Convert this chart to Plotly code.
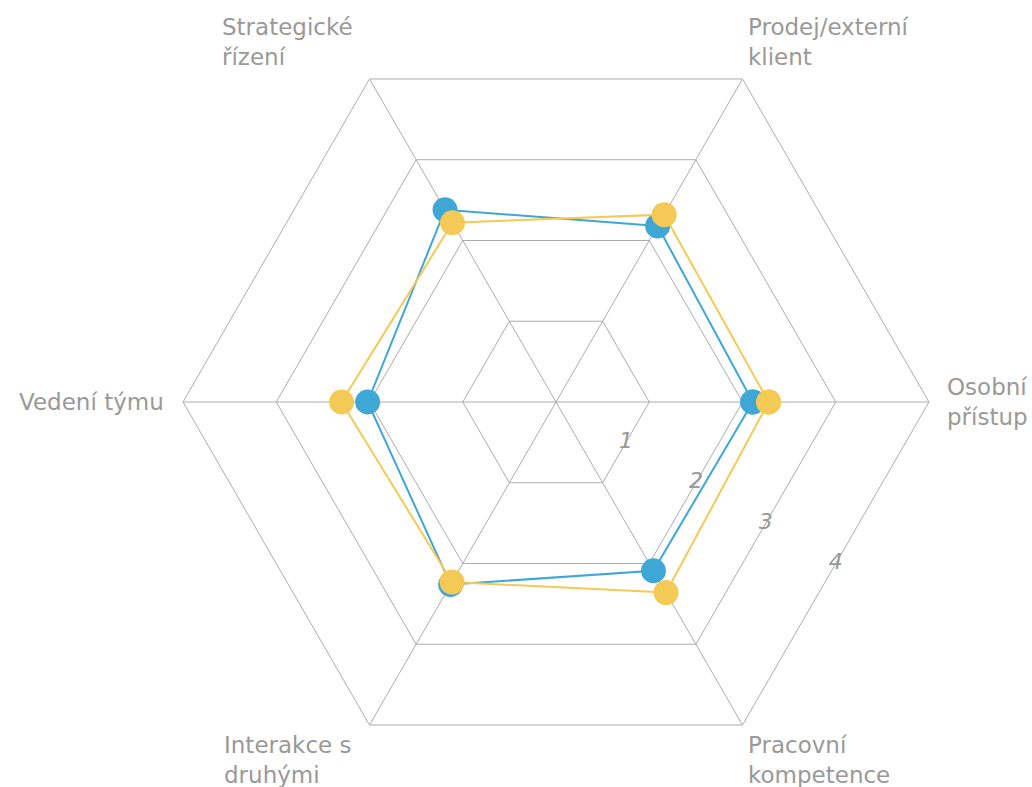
import math
import plotly.graph_objects as go

categories = ["Osobní<br>přístup", "Prodej/externí<br>klient", "Strategické<br>řízení",
              "Vedení týmu", "Interakce s<br>druhými", "Pracovní<br>kompetence"]
series_blue = [2.11, 2.18, 2.38, 2.02, 2.26, 2.09]
series_yellow = [2.28, 2.32, 2.22, 2.30, 2.23, 2.36]
radial_ticks = [1, 2, 3, 4]

BLUE = "#3fa7d6"
YELLOW = "#f5c955"
GRID = "#acacac"
TEXT = "#999999"
W, H = 1032, 787

step = 360 / len(categories)

def closed(v):
    return list(v) + list(v[:1])

fig = go.Figure()
for vals, col, name in [(series_blue, BLUE, "A"), (series_yellow, YELLOW, "B")]:
    fig.add_trace(go.Scatterpolar(
        r=closed(vals), theta=closed(categories), mode="lines+markers", name=name,
        line=dict(color=col, width=2), marker=dict(color=col, size=25),
        showlegend=False, cliponaxis=False, hoverinfo="r",
    ))

# radial tick labels, placed where each ring crosses the -30 degree direction
fig.add_trace(go.Scatterpolar(
    r=[t * math.cos(math.radians(step / 2)) for t in radial_ticks],
    theta=[-step / 2] * len(radial_ticks),
    mode="text", text=[str(t) for t in radial_ticks],
    textfont=dict(family="DejaVu Sans", size=22, color=TEXT, style="italic"),
    showlegend=False, hoverinfo="skip", cliponaxis=False, subplot="polar2",
))

cx, cy, R = 556, 402, 373
domain = dict(x=[(cx - R) / W, (cx + R) / W], y=[1 - (cy + R) / H, 1 - (cy - R) / H])
fig.update_layout(
    width=W, height=H,
    margin=dict(l=0, r=0, t=0, b=0),
    paper_bgcolor="white",
    font=dict(family="DejaVu Sans", size=23, color=TEXT),
    polar=dict(
        domain=domain,
        bgcolor="white",
        gridshape="linear",
        angularaxis=dict(type="category", direction="counterclockwise", rotation=0,
                         showline=True, linecolor=GRID, linewidth=1,
                         gridcolor=GRID, gridwidth=1, ticks="",
                         showticklabels=False),
        radialaxis=dict(range=[0, 4], tickvals=radial_ticks,
                        showline=False, gridcolor=GRID, gridwidth=1,
                        ticks="", showticklabels=False),
    ),
    polar2=dict(
        domain=domain,
        bgcolor="rgba(0,0,0,0)",
        angularaxis=dict(direction="counterclockwise", rotation=0, showgrid=False,
                         showline=False, showticklabels=False, ticks=""),
        radialaxis=dict(range=[0, 4], showgrid=False, showline=False,
                        showticklabels=False, ticks=""),
    ),
)

# category labels (left-aligned text blocks next to each vertex)
label_pos = [  # (x px, y px center, xanchor)
    (945, 402, "left"),
    (746, 42, "left"),
    (220, 42, "left"),
    (166, 402, "right"),
    (222, 760, "left"),
    (746, 760, "left"),
]
for text, (px, py, xa) in zip(categories, label_pos):
    fig.add_annotation(text=text, x=px / W, y=1 - py / H, xref="paper", yref="paper",
                       xanchor=xa, yanchor="middle", align="left", showarrow=False,
                       font=dict(family="DejaVu Sans", size=23, color=TEXT))

fig.write_html("out.html")
